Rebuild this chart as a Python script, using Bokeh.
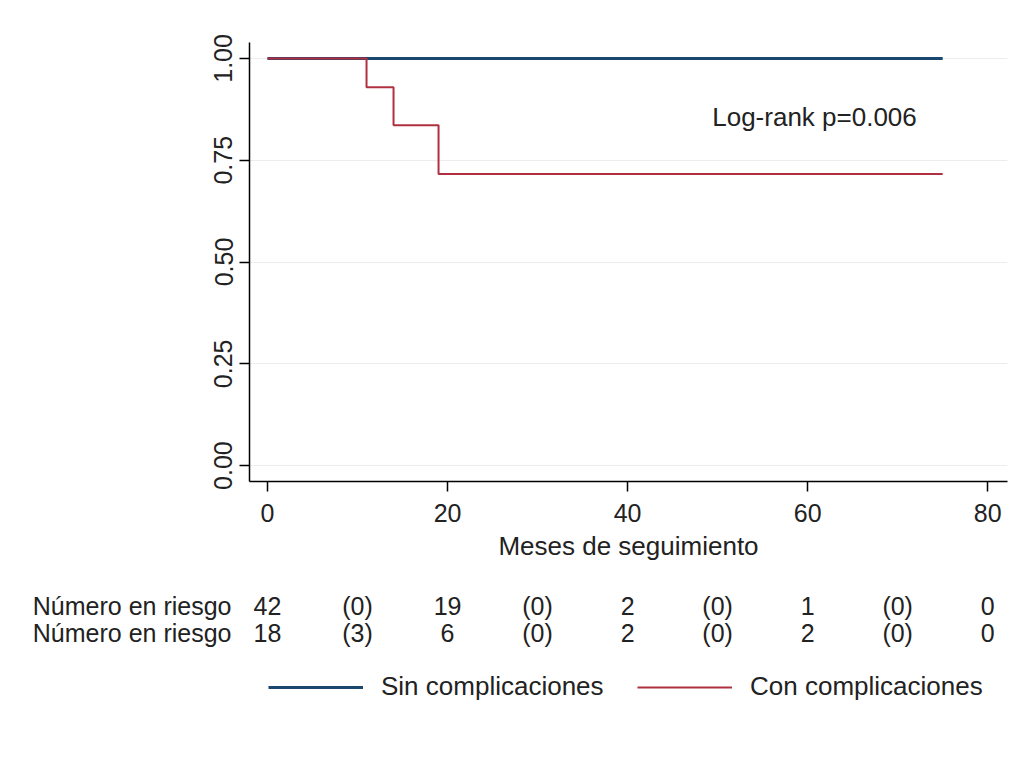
from bokeh.plotting import figure
from bokeh.layouts import column
from bokeh.models import (Range1d, FixedTicker, NumeralTickFormatter, Label,
                          Legend, LegendItem, ColumnDataSource)
from bokeh.embed import file_html
from bokeh.resources import INLINE
from bokeh.core.properties import value

# ---------------- data ----------------
sin_t = [0, 75]
sin_s = [1.0, 1.0]
con_t = [0, 11, 14, 19, 75]
con_s = [1.0, 0.929, 0.836, 0.716, 0.716]

x_ticks = [0, 20, 40, 60, 80]
y_ticks = [0.0, 0.25, 0.50, 0.75, 1.00]

risk_times = [0, 20, 40, 60, 80]
event_times = [10, 30, 50, 70]
risk_sin = ["42", "19", "2", "1", "0"]
events_sin = ["(0)", "(0)", "(0)", "(0)"]
risk_con = ["18", "6", "2", "2", "0"]
events_con = ["(3)", "(0)", "(0)", "(0)"]
row_label = "Número en riesgo"

series_names = ["Sin complicaciones", "Con complicaciones"]
annotation = "Log-rank p=0.006"
x_title = "Meses de seguimiento"

# ---------------- style ----------------
FONT = "Liberation Sans"
BLUE = "#1a476f"
RED = "#b03040"
TXT = "#222222"
W = 1012
H1 = 570
H2 = 170
LEFT = 249
RIGHT = 5
TOP = 42
X0, X1 = -2.0, 82.2
Y0, Y1 = -0.039, 1.039

p = figure(width=W, height=H1, output_backend="svg", toolbar_location=None,
           x_range=Range1d(X0, X1), y_range=Range1d(Y0, Y1),
           min_border_left=LEFT, min_border_right=RIGHT, min_border_top=TOP,
           min_border_bottom=H1 - TOP - 439)
p.frame_align = False
p.outline_line_color = None
p.background_fill_color = "white"
p.border_fill_color = "white"

p.xgrid.grid_line_color = None
p.ygrid.grid_line_color = "#ececec"
p.ygrid.grid_line_width = 1

p.xaxis.ticker = FixedTicker(ticks=x_ticks)
p.yaxis.ticker = FixedTicker(ticks=y_ticks)
p.yaxis.formatter = NumeralTickFormatter(format="0.00")
p.yaxis.major_label_orientation = "vertical"
for ax in (p.xaxis, p.yaxis):
    ax.axis_line_color = "black"
    ax.axis_line_width = 1.5
    ax.major_tick_line_color = "black"
    ax.major_tick_line_width = 1.5
    ax.major_tick_out = 10
    ax.major_tick_in = 0
    ax.minor_tick_line_color = None
    ax.major_label_text_font = FONT
    ax.major_label_text_font_size = "25px"
    ax.major_label_text_color = TXT
p.yaxis.major_label_standoff = 7
p.xaxis.major_label_standoff = 12
p.xaxis.axis_label = x_title
p.xaxis.axis_label_text_font = FONT
p.xaxis.axis_label_text_font_size = "26px"
p.xaxis.axis_label_text_font_style = "normal"
p.xaxis.axis_label_text_color = TXT
p.xaxis.axis_label_standoff = 6

p.step(sin_t, sin_s, mode="after", line_color=BLUE, line_width=3)
p.step(con_t, con_s, mode="after", line_color=RED, line_width=2)

p.add_layout(Label(x=49.4, y=0.855, text=annotation, text_font=FONT,
                   text_font_size="26px", text_color=TXT,
                   text_baseline="middle", text_align="left"))

# ---------------- risk table + legend ----------------
k = (W - LEFT - RIGHT) / (X1 - X0)
x2_start = X0 - LEFT / k
x2_end = X0 + (W - LEFT) / k
p2 = figure(width=W, height=H2, output_backend="svg", toolbar_location=None,
            x_range=Range1d(x2_start, x2_end), y_range=Range1d(H2, 0),
            x_axis_location=None, y_axis_location=None,
            min_border_left=0, min_border_right=0, min_border_top=0,
            min_border_bottom=0)
p2.frame_align = False
p2.outline_line_color = None
p2.grid.visible = False

rows_y = [35, 62]
rows = [(risk_sin, events_sin), (risk_con, events_con)]
for ry, (risk, ev) in zip(rows_y, rows):
    src = ColumnDataSource(dict(x=risk_times + event_times,
                                y=[ry] * (len(risk_times) + len(event_times)),
                                t=risk + ev))
    p2.text("x", "y", text="t", source=src, text_font=value(FONT),
            text_font_size="25px", text_color=TXT, text_align="center",
            text_baseline="middle")
    p2.text([risk_times[0] - 4.0], [ry], text=[row_label], text_font=value(FONT),
            text_font_size="25px", text_color=TXT, text_align="right",
            text_baseline="middle")

nan = float("nan")
r1 = p2.line([nan], [nan], line_color=BLUE, line_width=3)
r2 = p2.line([nan], [nan], line_color=RED, line_width=2)
legend = Legend(items=[LegendItem(label=series_names[0], renderers=[r1]),
                       LegendItem(label=series_names[1], renderers=[r2])],
                orientation="horizontal", location=(268, H2 - 117 - 15),
                glyph_width=95, glyph_height=20, label_standoff=18, spacing=24,
                label_width=232, padding=0, margin=0,
                border_line_color=None, background_fill_alpha=0,
                label_text_font=FONT, label_text_font_size="26px",
                label_text_color=TXT)
p2.add_layout(legend)

layout = column(p, p2)
open("out.html", "w").write(file_html(layout, INLINE))
